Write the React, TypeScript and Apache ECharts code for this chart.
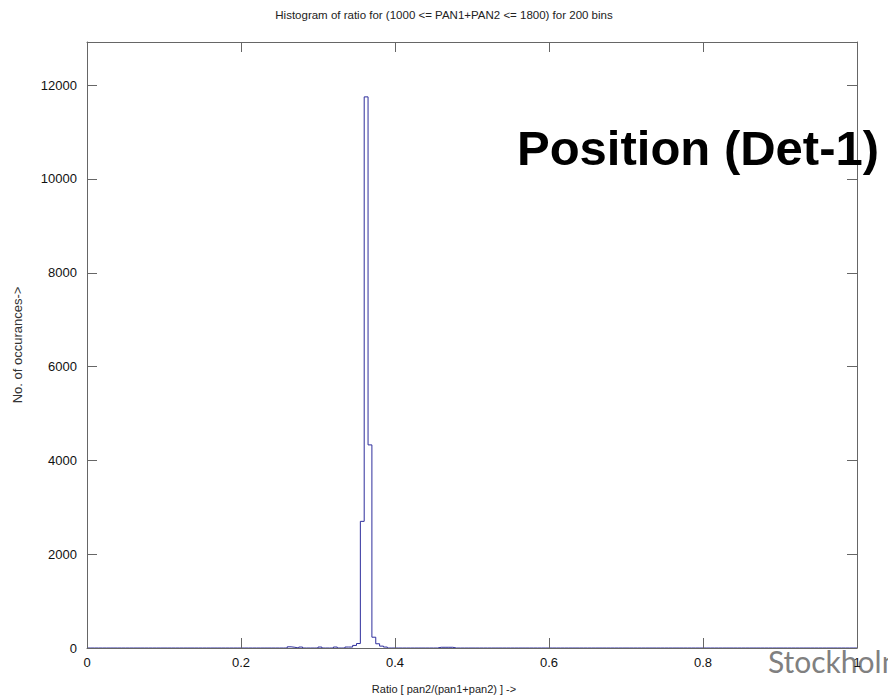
import React, { useEffect, useRef } from "react";
import * as echarts from "echarts";

const titleText = "Histogram of ratio for (1000 <= PAN1+PAN2 <= 1800) for 200 bins";
const xName = "Ratio [ pan2/(pan1+pan2) ] ->";
const yName = "No. of occurances->";
const overlayTitle = "Position (Det-1)";
const footerText = "Stockholm";

const binCount = 200;
const binWidth = 0.005;
// non-empty bins (left edges) and their counts
const binStarts = [0.26, 0.265, 0.275, 0.3, 0.32, 0.335, 0.34, 0.345, 0.35, 0.355, 0.36, 0.365, 0.37, 0.375, 0.38, 0.385, 0.455, 0.46, 0.465, 0.47];
const binCounts = [25, 15, 20, 20, 20, 20, 20, 55, 95, 2700, 11750, 4330, 230, 90, 40, 20, 15, 15, 15, 15];

const xMin = 0;
const xMax = 1;
const xInterval = 0.2;
const yMin = 0;
const yMax = 12920;
const yInterval = 2000;

function buildSteps(): [number, number][] {
  const counts = new Array(binCount).fill(0);
  binStarts.forEach((s, i) => {
    const idx = Math.round(s / binWidth);
    if (idx >= 0 && idx < binCount) counts[idx] = binCounts[i];
  });
  const pts: [number, number][] = [];
  for (let i = 0; i < binCount; i++) {
    const l = +(i * binWidth).toFixed(4);
    const r = +((i + 1) * binWidth).toFixed(4);
    pts.push([l, counts[i]]);
    pts.push([r, counts[i]]);
  }
  return pts;
}

export default function App() {
  const ref = useRef<HTMLDivElement>(null);
  useEffect(() => {
    document.body.style.margin = "0";
    if (!ref.current) return;
    const chart = echarts.init(ref.current, undefined, { renderer: "svg" });
    const axisColor = "#666666";
    const labelFont = "'Liberation Sans', Arial, sans-serif";
    const baseX = {
      type: "value" as const,
      min: xMin,
      max: xMax,
      interval: xInterval,
      splitLine: { show: false },
      axisLine: { show: true, onZero: false, lineStyle: { color: axisColor, width: 1 } },
      axisTick: { show: true, inside: true, length: 10, lineStyle: { color: axisColor } },
      z: 5,
    };
    const baseY = {
      type: "value" as const,
      min: yMin,
      max: yMax,
      interval: yInterval,
      splitLine: { show: false },
      axisLine: { show: true, onZero: false, lineStyle: { color: axisColor, width: 1 } },
      axisTick: { show: true, inside: true, length: 10, lineStyle: { color: axisColor } },
      z: 5,
    };
    chart.setOption({
      animation: false,
      backgroundColor: "#ffffff",
      grid: { left: 87, right: 31, top: 42, bottom: 52, containLabel: false },
      title: {
        text: titleText,
        left: "center",
        top: 4,
        textStyle: { fontFamily: labelFont, fontSize: 11.5, fontWeight: "normal", color: "#222222" },
      },
      xAxis: [
        {
          ...baseX,
          position: "bottom",
          axisLabel: { show: true, margin: 8, fontFamily: labelFont, fontSize: 13, color: "#111111" },
        },
        { ...baseX, position: "top", axisLabel: { show: false } },
      ],
      yAxis: [
        {
          ...baseY,
          position: "left",
          name: yName,
          nameLocation: "middle",
          nameGap: 63,
          nameRotate: 90,
          nameTextStyle: { fontFamily: labelFont, fontSize: 13, color: "#333333" },
          axisLabel: {
            show: true,
            margin: 10,
            showMaxLabel: false,
            fontFamily: labelFont,
            fontSize: 13,
            color: "#111111",
            formatter: (v: number) => String(v),
          },
        },
        { ...baseY, position: "right", axisLabel: { show: false } },
      ],
      series: [
        {
          type: "line",
          xAxisIndex: 0,
          yAxisIndex: 0,
          data: buildSteps(),
          showSymbol: false,
          symbol: "none",
          lineStyle: { color: "#2e2e9c", width: 1 },
          z: 2,
        },
      ],
      graphic: [
        {
          type: "text",
          x: 444,
          y: 689,
          z: 10,
          style: {
            text: xName,
            font: "11px 'Liberation Sans', Arial, sans-serif",
            fill: "#222222",
            textAlign: "center",
            textVerticalAlign: "middle",
          },
        },
        {
          type: "text",
          left: 517,
          top: 123,
          z: 100,
          style: {
            text: overlayTitle,
            font: "bold 49px 'Liberation Sans', Arial, sans-serif",
            fill: "#000000",
          },
        },
        {
          type: "text",
          left: 768,
          top: 646,
          z: 1,
          style: {
            text: footerText,
            font: "30px Lato, 'Open Sans', sans-serif",
            fill: "#808080",
          },
        },
      ],
    });
    return () => chart.dispose();
  }, []);
  return <div ref={ref} style={{ width: 888, height: 700 }} />;
}
